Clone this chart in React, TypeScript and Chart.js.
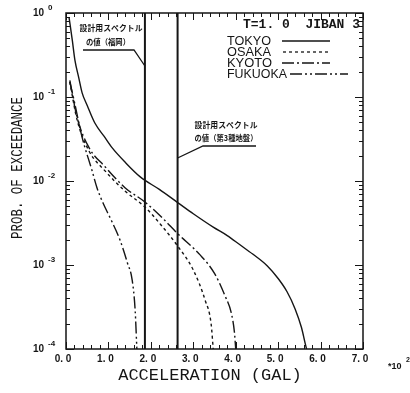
import React, { useEffect, useRef } from "react";
import { Chart, registerables } from "chart.js";

Chart.register(...registerables);

// ---- data ----
const tokyoX = [0.07, 0.1, 0.15, 0.21, 0.3, 0.38, 0.5, 0.68, 0.9, 1.08, 1.4, 1.75, 2.2, 2.64, 3.0, 3.47, 3.8, 4.1, 4.4, 4.74, 5.0, 5.21, 5.4, 5.55, 5.64, 5.67];
const tokyoY = [0.891, 0.708, 0.468, 0.275, 0.17, 0.112, 0.0794, 0.049, 0.0339, 0.0251, 0.0166, 0.0112, 0.00794, 0.0055, 0.00407, 0.00282, 0.00224, 0.00174, 0.00135, 0.00098, 0.00069, 0.00048, 0.0003, 0.00018, 0.000115, 0.0001];

const osakaX = [0.09, 0.26, 0.54, 0.92, 1.39, 1.86, 2.25, 2.64, 3.0, 3.28, 3.42, 3.47];
const osakaY = [0.151, 0.0537, 0.0229, 0.0132, 0.00759, 0.0049, 0.00295, 0.00166, 0.000871, 0.00038, 0.0002, 0.0001];

const kyotoX = [0.09, 0.26, 0.54, 0.92, 1.39, 1.86, 2.25, 2.64, 3.16, 3.5, 3.75, 3.9, 3.97, 4.0];
const kyotoY = [0.158, 0.0575, 0.0251, 0.0148, 0.00832, 0.00562, 0.00372, 0.00234, 0.00132, 0.000794, 0.000427, 0.000263, 0.000158, 0.0001];

const fukuokaX = [0.09, 0.19, 0.38, 0.61, 0.73, 0.87, 1.07, 1.27, 1.45, 1.56, 1.63, 1.67];
const fukuokaY = [0.151, 0.0912, 0.0331, 0.0135, 0.00832, 0.0055, 0.00339, 0.002, 0.00105, 0.000661, 0.000288, 0.0001];

const designLineX = [1.86, 2.63];

const seriesNames = ["TOKYO", "OSAKA", "KYOTO", "FUKUOKA"];
const xTickValues = [0, 1, 2, 3, 4, 5, 6, 7];
const yDecadeExponents = [0, -1, -2, -3, -4];

const headerText = "T=1. 0  JIBAN 3";
const xTitle = "ACCELERATION (GAL)";
const yTitle = "PROB. OF EXCEEDANCE";
const note1 = ["設計用スペクトル", "の値（福岡）"];
const note2 = ["設計用スペクトル", "の値（第3種地盤）"];

const INK = "#151515";
const dashes: number[][] = [[], [3, 3], [12, 3, 2, 3], [12, 3, 2, 3, 2, 3]];

function pts(xs: number[], ys: number[]) {
  return xs.map((x, i) => ({ x, y: ys[i] }));
}

const decorPlugin = {
  id: "decor",
  afterDraw(chart: any) {
    const ctx: CanvasRenderingContext2D = chart.ctx;
    const { left, right, top, bottom } = chart.chartArea;
    const xs = chart.scales.x;
    const ys = chart.scales.y;
    const line = (x1: number, y1: number, x2: number, y2: number) => {
      ctx.beginPath();
      ctx.moveTo(x1, y1);
      ctx.lineTo(x2, y2);
      ctx.stroke();
    };
    ctx.save();
    ctx.strokeStyle = INK;
    ctx.fillStyle = INK;
    ctx.setLineDash([]);

    // frame
    ctx.lineWidth = 1.5;
    ctx.strokeRect(left, top, right - left, bottom - top);

    // x ticks (inward, top & bottom)
    ctx.lineWidth = 1;
    for (let i = 0; i <= 35; i++) {
      const v = i * 0.2;
      const px = Math.round(xs.getPixelForValue(v)) + 0.5;
      const len = i % 5 === 0 ? 7 : 4;
      line(px, bottom, px, bottom - len);
      line(px, top, px, top + len);
    }
    // y ticks (inward, left & right)
    for (let d = -4; d <= 0; d++) {
      for (let m = 1; m <= 9; m++) {
        if (d === 0 && m > 1) break;
        const py = Math.round(ys.getPixelForValue(m * Math.pow(10, d))) + 0.5;
        const len = m === 1 ? 8 : 4;
        line(left, py, left + len, py);
        line(right, py, right - len, py);
      }
    }

    // x tick labels
    ctx.font = "bold 10px 'Liberation Sans'";
    ctx.textAlign = "center";
    ctx.textBaseline = "middle";
    xTickValues.forEach((v) => {
      const px = xs.getPixelForValue(v);
      ctx.fillText(v.toFixed(1).replace(".", ". "), px - 3, 359);
    });
    // multiplier
    ctx.textAlign = "left";
    ctx.font = "bold 9px 'Liberation Sans'";
    ctx.fillText("*10", 388, 367);
    ctx.font = "bold 7px 'Liberation Sans'";
    ctx.fillText("2", 406, 360);

    // y tick labels
    yDecadeExponents.forEach((e) => {
      const py = ys.getPixelForValue(Math.pow(10, e));
      ctx.font = "bold 10px 'Liberation Sans'";
      ctx.textAlign = "right";
      ctx.fillText("10", 44, py);
      ctx.font = "bold 8px 'Liberation Sans'";
      ctx.textAlign = "left";
      ctx.fillText(String(e), 48, py - 5);
    });

    // axis titles
    ctx.font = "17px 'Liberation Mono'";
    ctx.textAlign = "center";
    ctx.fillText(xTitle, 210, 375, 186);
    ctx.save();
    ctx.translate(18, 168);
    ctx.rotate(-Math.PI / 2);
    ctx.font = "16px 'Liberation Mono'";
    ctx.fillText(yTitle, 0, 0, 142);
    ctx.restore();

    // header & legend
    ctx.font = "bold 13px 'Liberation Mono'";
    ctx.textAlign = "left";
    ctx.fillText(headerText, 243, 25, 118);
    const legendY = [41, 52, 63, 74];
    const labelW = [44, 44, 45, 60];
    const lineStart = [282, 283, 282, 290];
    const lineEnd = [330, 330, 330, 348];
    ctx.font = "13px 'Liberation Sans'";
    chart.data.datasets.slice(0, 4).forEach((ds: any, i: number) => {
      ctx.fillText(ds.label, 227, legendY[i], labelW[i]);
      ctx.setLineDash(ds.borderDash || []);
      ctx.lineWidth = 1.3;
      line(lineStart[i], legendY[i], lineEnd[i], legendY[i]);
    });
    ctx.setLineDash([]);

    // annotations
    ctx.font = "bold 8px 'Noto Sans CJK JP'";
    ctx.textAlign = "center";
    ctx.fillText(note1[0], 111, 28, 63);
    ctx.fillText(note1[1], 108, 42, 44);
    ctx.fillText(note2[0], 226, 125, 63);
    ctx.fillText(note2[1], 226, 138, 63);
    ctx.lineWidth = 1.3;
    const x1 = xs.getPixelForValue(designLineX[0]);
    const x2 = xs.getPixelForValue(designLineX[1]);
    ctx.beginPath();
    ctx.moveTo(83, 50);
    ctx.lineTo(134, 50);
    ctx.lineTo(x1, 66);
    ctx.stroke();
    ctx.beginPath();
    ctx.moveTo(256, 146);
    ctx.lineTo(203, 146);
    ctx.lineTo(x2, 158);
    ctx.stroke();

    ctx.restore();
  },
};

export default function App() {
  const ref = useRef<HTMLCanvasElement | null>(null);
  useEffect(() => {
    document.body.style.margin = "0";
    const canvas = ref.current;
    if (!canvas) return;
    const seriesX = [tokyoX, osakaX, kyotoX, fukuokaX];
    const seriesY = [tokyoY, osakaY, kyotoY, fukuokaY];
    const datasets: any[] = seriesNames.map((name, i) => ({
      label: name,
      data: pts(seriesX[i], seriesY[i]),
      borderColor: INK,
      borderWidth: 1.4,
      borderDash: dashes[i],
      pointRadius: 0,
      fill: false,
      cubicInterpolationMode: "monotone",
    }));
    designLineX.forEach((x, i) => {
      datasets.push({
        label: "design" + i,
        data: [
          { x, y: 1e-4 },
          { x, y: 1 },
        ],
        borderColor: INK,
        borderWidth: 2,
        pointRadius: 0,
        fill: false,
      });
    });
    const chart = new Chart(canvas, {
      type: "line",
      data: { datasets },
      options: {
        animation: false,
        responsive: false,
        devicePixelRatio: 1,
        layout: { padding: { left: 66, top: 13, right: 47, bottom: 44 } },
        scales: {
          x: { type: "linear", min: 0, max: 7, display: false },
          y: { type: "logarithmic", min: 1e-4, max: 1, display: false },
        },
        plugins: {
          legend: { display: false },
          tooltip: { enabled: false },
        },
      },
      plugins: [decorPlugin],
    } as any);
    return () => chart.destroy();
  }, []);
  return (
    <div style={{ width: 410, height: 393, background: "#fff" }}>
      <canvas ref={ref} width={410} height={393} style={{ display: "block" }} />
    </div>
  );
}
